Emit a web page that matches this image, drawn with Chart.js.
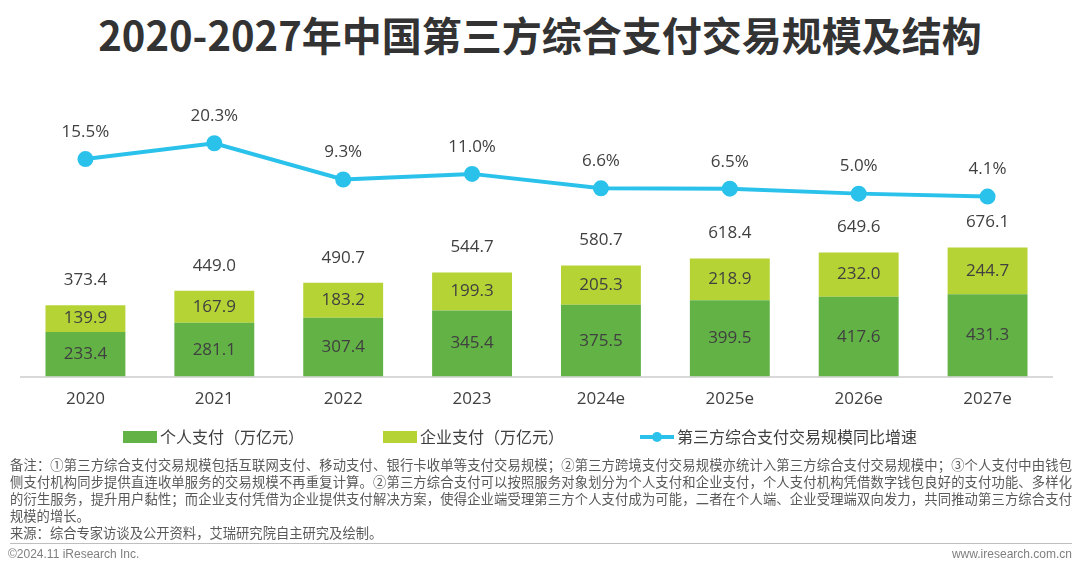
<!DOCTYPE html>
<html>
<head>
<meta charset="utf-8">
<script src="https://cdn.jsdelivr.net/npm/chart.js@4"></script>
<style>
  body { margin: 0; background: #fff; font-family: "Noto Sans CJK SC", "Open Sans", sans-serif; }
  #page { position: relative; width: 1080px; height: 569px; overflow: hidden; }
  #title { position: absolute; left: 0; top: 6px; width: 1080px; text-align: center;
    font-size: 40px; font-weight: bold; color: #333; line-height: 56px; }
  #wrap { position: absolute; left: 0; top: 70px; width: 1080px; height: 359px; }
  #legend { position: absolute; top: 424px; left: 0; width: 1080px; height: 24px; font-size: 16px; color: #404040; }
  .lg { position: absolute; top: 0; line-height: 24px; white-space: nowrap; }
  .lg i { display: inline-block; vertical-align: middle; margin-right: 3px; position: relative; top: -2px; }
  #notes { position: absolute; left: 10px; top: 456px; width: 1062px; font-size: 13.3px; color: #595959; line-height: 17px; }
  .j { text-align: justify; text-align-last: justify; }
  #rule { position: absolute; left: 10px; top: 543px; width: 1062px; height: 1px; background: #bfbfbf; }
  #foot { position: absolute; left: 8px; top: 545px; width: 1064px; font-size: 12px; color: #7f7f7f; line-height: 18px; font-family: "Liberation Sans", Arial, sans-serif; }
</style>
</head>
<body>
<div id="page">
  <div id="title">2020-2027年中国第三方综合支付交易规模及结构</div>
  <div id="wrap"><canvas id="payChart"></canvas></div>
  <div id="legend">
    <span class="lg" style="left:123px"><i style="width:34px;height:12px;background:#62B246"></i>个人支付（万亿元）</span>
    <span class="lg" style="left:383px"><i style="width:34px;height:12px;background:#B5D334"></i>企业支付（万亿元）</span>
    <span class="lg" style="left:640px"><i style="width:34px;height:12px;background:linear-gradient(#fff 0,#fff 4px,#2AC2EB 4px,#2AC2EB 8px,#fff 8px)"><b style="position:absolute;left:12px;top:1px;width:10px;height:10px;border-radius:50%;background:#2AC2EB"></b></i>第三方综合支付交易规模同比增速</span>
  </div>
  <div id="notes">
    <div class="j">备注：①第三方综合支付交易规模包括互联网支付、移动支付、银行卡收单等支付交易规模；②第三方跨境支付交易规模亦统计入第三方综合支付交易规模中；③个人支付中由钱包</div>
    <div class="j">侧支付机构同步提供直连收单服务的交易规模不再重复计算。②第三方综合支付可以按照服务对象划分为个人支付和企业支付，个人支付机构凭借数字钱包良好的支付功能、多样化</div>
    <div class="j">的衍生服务，提升用户黏性；而企业支付凭借为企业提供支付解决方案，使得企业端受理第三方个人支付成为可能，二者在个人端、企业受理端双向发力，共同推动第三方综合支付</div>
    <div>规模的增长。</div>
    <div>来源：综合专家访谈及公开资料，艾瑞研究院自主研究及绘制。</div>
  </div>
  <div id="rule"></div>
  <div id="foot"><span>©2024.11 iResearch Inc.</span><span style="float:right">www.iresearch.com.cn</span></div>
</div>
<script>
const years = ['2020', '2021', '2022', '2023', '2024e', '2025e', '2026e', '2027e'];
const personal = [233.4, 281.1, 307.4, 345.4, 375.5, 399.5, 417.6, 431.3];
const business = [139.9, 167.9, 183.2, 199.3, 205.3, 218.9, 232.0, 244.7];
const totals = [373.4, 449.0, 490.7, 544.7, 580.7, 618.4, 649.6, 676.1];
const growth = [15.5, 20.3, 9.3, 11.0, 6.6, 6.5, 5.0, 4.1];

const labelFont = '17px "Open Sans", "Noto Sans CJK SC", sans-serif';

// draws the value labels: segment values, totals above bars, growth above points
const valueLabels = {
    id: 'valueLabels',
    afterDatasetsDraw(chart) {
        const ctx = chart.ctx;
        ctx.save();
        ctx.font = labelFont;
        ctx.fillStyle = '#404040';
        ctx.textAlign = 'center';
        ctx.textBaseline = 'middle';
        const pMeta = chart.getDatasetMeta(0);
        const bMeta = chart.getDatasetMeta(1);
        const lMeta = chart.getDatasetMeta(2);
        pMeta.data.forEach((bar, i) => {
            ctx.fillText(personal[i].toFixed(1), bar.x, (bar.y + bar.base) / 2);
        });
        bMeta.data.forEach((bar, i) => {
            ctx.fillText(business[i].toFixed(1), bar.x, (bar.y + bar.base) / 2);
            ctx.fillText(totals[i].toFixed(1), bar.x, bar.y - 25);
        });
        lMeta.data.forEach((pt, i) => {
            ctx.fillText(growth[i].toFixed(1) + '%', pt.x, pt.y - 27);
        });
        ctx.restore();
    }
};

const ctx = document.getElementById('payChart').getContext('2d');

const config = {
    type: 'bar',
    data: {
        labels: years,
        datasets: [
            {
                label: '个人支付（万亿元）',
                data: personal,
                backgroundColor: '#62B246',
                stack: 's',
                yAxisID: 'y',
                order: 2
            },
            {
                label: '企业支付（万亿元）',
                data: business,
                backgroundColor: '#B5D334',
                stack: 's',
                yAxisID: 'y',
                order: 2
            },
            {
                type: 'line',
                label: '第三方综合支付交易规模同比增速',
                data: growth,
                borderColor: '#2AC2EB',
                backgroundColor: '#2AC2EB',
                borderWidth: 4,
                pointRadius: 6,
                pointHoverRadius: 6,
                tension: 0,
                yAxisID: 'y1',
                order: 1
            }
        ]
    },
    options: {
        responsive: true,
        maintainAspectRatio: false,
        animation: false,
        layout: { padding: { top: 30, bottom: 8, left: 21, right: 28 } },
        datasets: { bar: { categoryPercentage: 1, barPercentage: 0.62 } },
        scales: {
            x: {
                stacked: true,
                grid: { display: false, drawTicks: false },
                border: { display: true, color: '#d9d9d9', width: 2 },
                ticks: {
                    color: '#404040',
                    padding: 12,
                    font: { size: 17, family: '"Open Sans", "Noto Sans CJK SC", sans-serif' }
                }
            },
            y: {
                stacked: true,
                display: false,
                min: 0,
                max: 1447
            },
            y1: {
                display: false,
                min: -50.6,
                max: 33.45
            }
        },
        plugins: {
            legend: { display: false },
            tooltip: { enabled: false }
        }
    },
    plugins: [valueLabels]
};

const payChart = new Chart(ctx, config);
</script>
</body>
</html>
